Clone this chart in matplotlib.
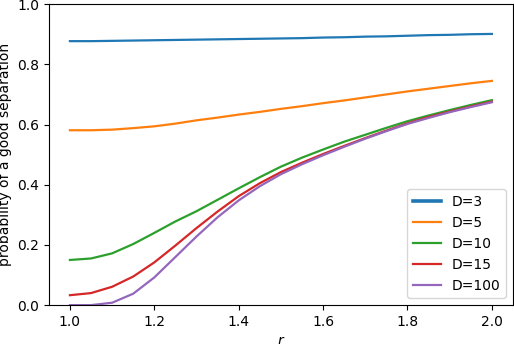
import matplotlib
matplotlib.use('Agg')
import matplotlib.pyplot as plt

r = [1.00, 1.05, 1.10, 1.15, 1.20, 1.25, 1.30, 1.35, 1.40, 1.45, 1.50,
     1.55, 1.60, 1.65, 1.70, 1.75, 1.80, 1.85, 1.90, 1.95, 2.00]

d3 = [.877, .877, .878, .879, .880, .881, .882, .883, .884, .885, .886,
      .887, .889, .890, .892, .893, .895, .897, .898, .900, .901]
d5 = [.581, .581, .583, .588, .594, .603, .614, .623, .633, .642, .652,
      .661, .671, .680, .690, .700, .710, .719, .728, .737, .745]
d10 = [.150, .155, .172, .203, .240, .278, .312, .350, .388, .425, .460,
       .490, .517, .543, .566, .589, .611, .630, .648, .665, .681]
d15 = [.033, .040, .061, .095, .142, .198, .256, .311, .362, .405, .442,
       .473, .502, .529, .555, .580, .604, .625, .643, .660, .676]
d100 = [.000, .000, .008, .038, .092, .160, .228, .292, .348, .395, .435,
        .468, .498, .526, .553, .578, .602, .622, .641, .658, .674]

series = [("D=3", d3), ("D=5", d5), ("D=10", d10), ("D=15", d15), ("D=100", d100)]

fig, ax = plt.subplots(figsize=(5.14, 3.44), dpi=100)

for name, vals in series:
    ax.plot(r, vals, label=name, linewidth=1.6)

ax.set_ylim(0, 1)
ax.set_xlabel("$r$")
ax.set_ylabel("probability of a good separation")
leg = ax.legend(loc="lower right")
# first legend entry is drawn thicker in the original
leg.get_lines()[0].set_linewidth(2.6)

plt.subplots_adjust(left=0.095, right=0.998, top=0.988, bottom=0.113)
plt.savefig("out.png")
